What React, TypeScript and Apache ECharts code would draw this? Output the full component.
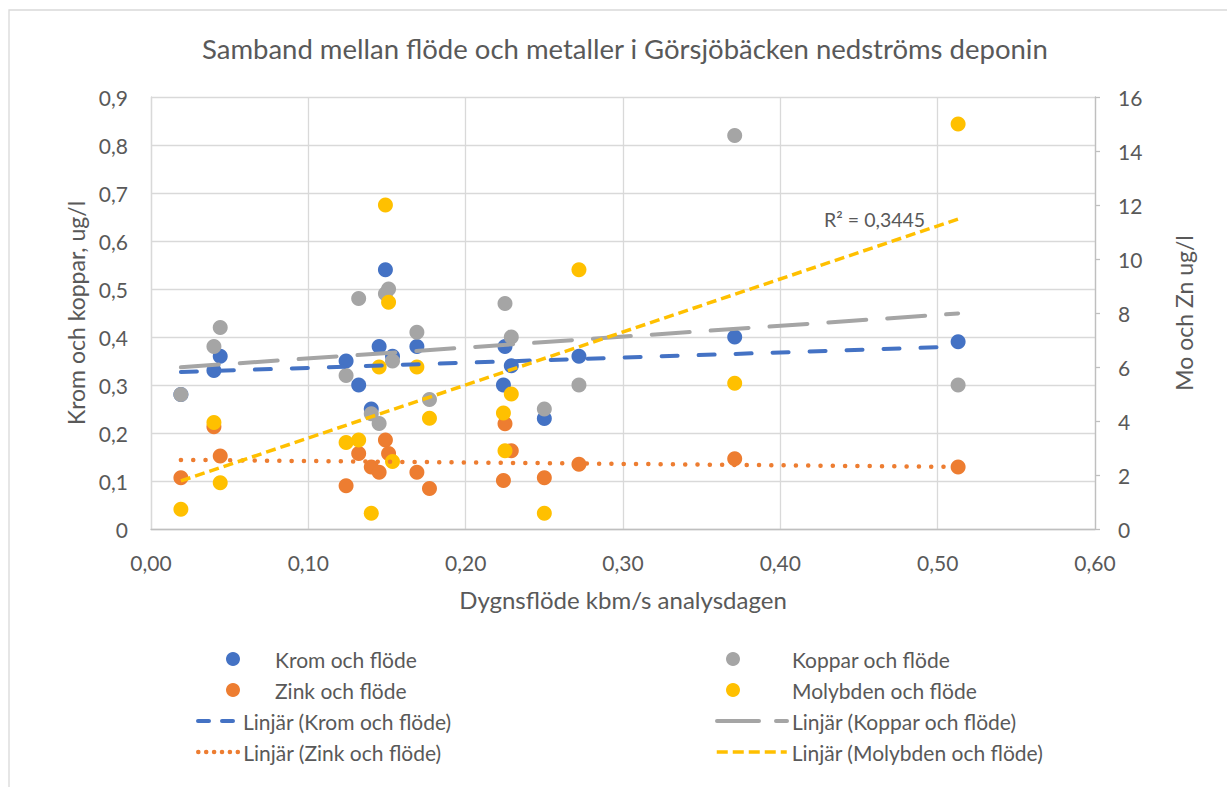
import React, { useEffect, useRef } from "react";
import * as echarts from "echarts";

// Daily flow (kbm/s) on the analysis day
const flow = [0.019, 0.04, 0.044, 0.124, 0.132, 0.14, 0.145, 0.149, 0.151, 0.1535, 0.169, 0.177, 0.224, 0.225, 0.229, 0.25, 0.272, 0.371, 0.513];
// Left axis (ug/l)
const krom = [0.28, 0.33, 0.36, 0.35, 0.3, 0.25, 0.38, 0.54, null, 0.36, 0.38, null, 0.3, 0.38, 0.34, 0.23, 0.36, 0.4, 0.39];
const koppar = [0.28, 0.38, 0.42, 0.32, 0.48, 0.24, 0.22, 0.49, 0.5, 0.35, 0.41, 0.27, null, 0.47, 0.4, 0.25, 0.3, 0.82, 0.3];
// Right axis (ug/l)
const zink = [1.9, 3.79, 2.7, 1.6, 2.8, 2.3, 2.1, 3.3, 2.8, null, 2.1, 1.5, 1.8, 3.9, 2.9, 1.9, 2.4, 2.6, 2.3];
const molybden = [0.73, 3.94, 1.71, 3.2, 3.3, 0.58, 6.0, 12.0, 8.4, 2.5, 6.0, 4.1, 4.3, 2.9, 5.0, 0.58, 9.6, 5.4, 15.0];

// Linear trend lines (values at first and last flow)
const trendFlow = [0.019, 0.513];
const trendKrom = [0.327, 0.38];
const trendKoppar = [0.337, 0.449];
const trendZink = [2.56, 2.3];
const trendMolybden = [1.78, 11.48];
const r2Label = "R² = 0,3445";

const title = "Samband mellan flöde och metaller i Görsjöbäcken nedströms deponin";
const xName = "Dygnsflöde kbm/s analysdagen";
const yLeftName = "Krom och koppar, ug/l";
const yRightName = "Mo och Zn ug/l";

const names = {
  krom: "Krom och flöde",
  koppar: "Koppar och flöde",
  zink: "Zink och flöde",
  mo: "Molybden och flöde",
  tKrom: "Linjär (Krom och flöde)",
  tKoppar: "Linjär (Koppar och flöde)",
  tZink: "Linjär (Zink och flöde)",
  tMo: "Linjär (Molybden och flöde)",
};

const C = { blue: "#4472C4", orange: "#ED7D31", gray: "#A5A5A5", yellow: "#FFC000", text: "#595959", grid: "#D9D9D9", axis: "#BFBFBF" };
const FONT = "Lato";

const pts = (vals: (number | null)[]) =>
  flow.map((f, i) => [f, vals[i]] as [number, number | null]).filter((p) => p[1] !== null);
const trend = (vals: number[]) => trendFlow.map((f, i) => [f, vals[i]]);

export default function App() {
  const ref = useRef<HTMLDivElement>(null);
  useEffect(() => {
    if (!ref.current) return;
    const chart = echarts.init(ref.current, undefined, { renderer: "svg" });
    const scatter = (name: string, vals: (number | null)[], color: string, yAxisIndex: number) => ({
      name,
      type: "scatter",
      yAxisIndex,
      symbol: "circle",
      symbolSize: 15,
      itemStyle: { color, opacity: 1 },
      data: pts(vals),
      z: 3,
    });
    const tline = (name: string, vals: number[], color: string, yAxisIndex: number, width: number, dash: number[], cap: string, extra: any = {}) => ({
      name,
      type: "line",
      yAxisIndex,
      symbol: "none",
      data: trend(vals),
      lineStyle: { color, width, type: dash, cap },
      itemStyle: { color },
      z: 4,
      ...extra,
    });
    const legendText = (pad: number) => ({
      color: C.text,
      fontSize: 21,
      fontFamily: FONT,
      lineHeight: 22,
      padding: [0, 0, 0, pad],
    });
    const lineLegend = (name: string, left: number, top: number, w: number, dash: number[], cap: string, width: number) => ({
      data: [name],
      left,
      top,
      itemWidth: w,
      itemHeight: 14,
      itemStyle: { opacity: 0 },
      lineStyle: { width, type: dash, cap },
      textStyle: legendText(0),
    });
    chart.setOption({
      animation: false,
      textStyle: { fontFamily: FONT },
      title: {
        text: title,
        left: 197,
        top: 29,
        textStyle: { color: C.text, fontSize: 27.5, fontWeight: "normal", fontFamily: FONT },
      },
      graphic: [
        {
          type: "rect",
          shape: { x: 9, y: 10, width: 1400, height: 1000 },
          style: { fill: "none", stroke: C.grid, lineWidth: 1.3 },
          silent: true,
        },
      ],
      grid: { left: 151, right: 132, top: 97, bottom: 258 },
      xAxis: {
        type: "value",
        min: 0,
        max: 0.6,
        interval: 0.1,
        axisLine: { show: true, lineStyle: { color: C.axis, width: 1.3 } },
        axisTick: { show: false },
        axisLabel: {
          color: C.text,
          fontSize: 21,
          fontFamily: FONT,
          margin: 23,
          formatter: (v: number) => v.toFixed(2).replace(".", ","),
        },
        splitLine: { show: true, lineStyle: { color: C.grid, width: 1.3 } },
        name: xName,
        nameLocation: "middle",
        nameGap: 58,
        nameTextStyle: { color: C.text, fontSize: 24, fontFamily: FONT },
      },
      yAxis: [
        {
          type: "value",
          min: 0,
          max: 0.9,
          interval: 0.1,
          axisLine: { show: true, lineStyle: { color: C.grid, width: 1.3 } },
          axisTick: { show: false },
          axisLabel: {
            color: C.text,
            fontSize: 21,
            fontFamily: FONT,
            margin: 23,
            formatter: (v: number) => (v === 0 ? "0" : (Math.round(v * 10) / 10).toString().replace(".", ",")),
          },
          splitLine: { show: true, lineStyle: { color: C.grid, width: 1.3 } },
          name: yLeftName,
          nameLocation: "middle",
          nameRotate: 90,
          nameGap: 60,
          nameTextStyle: { color: C.text, fontSize: 23, fontFamily: FONT },
        },
        {
          type: "value",
          position: "right",
          min: 0,
          max: 16,
          interval: 2,
          axisLine: { show: true, lineStyle: { color: C.axis, width: 1.3 } },
          axisTick: { show: true, inside: false, length: 5, lineStyle: { color: C.axis, width: 1.3 } },
          axisLabel: { color: C.text, fontSize: 21, fontFamily: FONT, margin: 23 },
          splitLine: { show: false },
          name: yRightName,
          nameLocation: "middle",
          nameRotate: 90,
          nameGap: 77,
          nameTextStyle: { color: C.text, fontSize: 23, fontFamily: FONT },
        },
      ],
      legend: [
        {
          data: [names.krom, names.zink],
          orient: "vertical",
          left: 221,
          top: 643,
          itemWidth: 14,
          itemHeight: 14,
          itemGap: 9,
          textStyle: legendText(30),
        },
        {
          data: [names.koppar, names.mo],
          orient: "vertical",
          left: 721,
          top: 643,
          itemWidth: 14,
          itemHeight: 14,
          itemGap: 9,
          textStyle: legendText(47),
        },
        lineLegend(names.tKrom, 191, 705, 40, [11, 13], "round", 4),
        lineLegend(names.tZink, 191, 736, 40, [0.1, 7.8], "round", 4.5),
        lineLegend(names.tKoppar, 710, 705, 70, [42, 17], "round", 4),
        lineLegend(names.tMo, 710, 736, 70, [11, 5], "butt", 3.5),
      ],
      series: [
        scatter(names.krom, krom, C.blue, 0),
        scatter(names.koppar, koppar, C.gray, 0),
        scatter(names.zink, zink, C.orange, 1),
        scatter(names.mo, molybden, C.yellow, 1),
        tline(names.tKrom, trendKrom, C.blue, 0, 4, [16, 21], "round"),
        tline(names.tKoppar, trendKoppar, C.gray, 0, 4, [38, 21], "round"),
        tline(names.tZink, trendZink, C.orange, 1, 4.5, [0.1, 12.2], "round"),
        tline(names.tMo, trendMolybden, C.yellow, 1, 3.5, [10, 5], "butt", {
          markPoint: {
            symbol: "circle",
            symbolSize: 0,
            silent: true,
            data: [
              {
                coord: [trendFlow[1], trendMolybden[1]],
                label: {
                  show: true,
                  formatter: r2Label,
                  position: "left",
                  distance: 33,
                  color: C.text,
                  fontSize: 19.5,
                  fontFamily: FONT,
                },
              },
            ],
          },
        }),
      ],
    });
    return () => chart.dispose();
  }, []);
  return <div ref={ref} style={{ position: "fixed", left: 0, top: 0, width: 1227, height: 787, background: "#fff" }} />;
}
